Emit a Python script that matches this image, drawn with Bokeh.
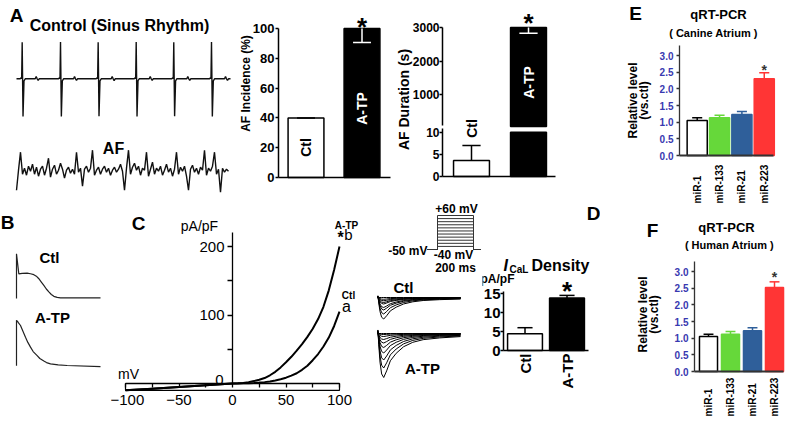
import numpy as np
from math import pi
from bokeh.plotting import figure
from bokeh.layouts import row, column
from bokeh.models import Range1d, LinearAxis, FixedTicker, Label, PrintfTickFormatter
from bokeh.core.properties import value
from bokeh.embed import file_html
from bokeh.resources import INLINE

FONT = "Liberation Sans"

# ---------------------------------------------------------------- data
# A - surface ECG (sinus rhythm), time in ms, amplitude in mV
sinus_ms = [0, 49, 62, 68, 75, 86, 99, 115, 247, 260, 273, 286, 299,
            555, 568, 574, 581, 592, 605, 621, 753, 766, 779, 792, 805,
            1052, 1065, 1071, 1078, 1089, 1102, 1118, 1250, 1263, 1276, 1289, 1302,
            1554, 1567, 1573, 1580, 1591, 1604, 1620, 1752, 1765, 1778, 1791, 1804,
            2050, 2063, 2069, 2076, 2087, 2100, 2116, 2248, 2261, 2274, 2287, 2300,
            2548, 2561, 2567, 2574, 2585, 2598, 2614, 2746, 2759, 2772, 2785, 2798, 2825]
sinus_mv = [0, 0, 0.06, 0, 1.83, -1.88, -0.10, 0, 0, 0.12, 0, -0.08, 0,
            0, 0.06, 0, 1.84, -1.88, -0.10, 0, 0, 0.11, 0, -0.08, 0,
            0, 0.05, 0, 1.83, -1.87, -0.10, 0, 0, 0.12, 0, -0.09, 0,
            0, 0.06, 0, 1.84, -1.88, -0.09, 0, 0, 0.12, 0, -0.08, 0,
            0, 0.06, 0, 1.83, -1.87, -0.10, 0, 0, 0.11, 0, -0.08, 0,
            0, 0.06, 0, 1.84, -1.88, -0.10, 0, 0, 0.12, 0, -0.08, 0, 0]
# A - AF electrogram, one sample every 26.4 ms, amplitude in units of 0.05 mV
af_sample_ms = 26.4
af_amp = [-18, 2, 20, -2, 4, -3, 6, 1, 8, -2,
          5, -4, 3, 6, -3, 4, 14, -5, 3, 7,
          -2, 2, 9, 3, -6, 2, 5, -1, 3, -2,
          20, 0, 4, -14, 3, 6, 0, 4, 22, -3,
          2, 5, -2, 3, 6, 0, 4, -3, 2, 5,
          0, 3, 8, 1, -18, 4, 22, -2, 5, 9,
          2, 6, -3, 4, 2, 20, -4, 3, 10, -2,
          4, 1, 6, -3, 2, 8, 0, 4, -4, 3,
          20, -2, 5, 1, 6, -4, -18, 3, 7, 0,
          4, -2, 5, 2, 22, -3, 4, 1, 6, 20,
          -2, 3, -20, 4, 0, 3, 1]

groups = ["Ctl", "A-TP"]
af_incidence = [40, 100]
af_incidence_sem = [0, 9.4]
af_duration = [3.6, 3000]
af_duration_sem = [3.4, 170]

# B - action potentials
ap_ctl_ms = [0, 0, 14, 34, 64, 84, 104, 119, 134, 149, 164, 179, 194, 209, 224, 244, 264, 504]
ap_ctl_mv = [-82, 40, -15, -13.5, -13, -14.5, -17, -21, -28, -37, -46, -56, -64, -71, -76, -79, -80, -80]
ap_atp_ms = [0, 0, 6, 12, 24, 38, 54, 68, 84, 100, 124, 140, 164, 180, 204, 250, 304, 504]
ap_atp_mv = [-81, 43, 40, 36, 29, 14, -3, -17, -30, -42, -53, -61, -68, -72, -75.5, -78.5, -80, -83]

# C - I-V relation (pA/pF vs mV)
iv_mv = [-100, -75, -50, -25, 0, 5, 10, 15, 20, 25, 30, 35, 40, 45, 50, 55, 60, 65, 70, 75, 80, 85, 90, 95, 100]
iv_ctl = [-10, -7.5, -5, -2.5, 0, 0.1, 0.3, 0.5, 0.8, 1.3, 2, 3, 4.5, 6.3, 8.5, 11.5, 15, 20, 26, 34, 43, 54, 67, 84, 105]
iv_atp = [-10, -7.5, -5, -2.5, 0, 0.2, 0.8, 2, 3.5, 5.5, 8, 12, 17, 23.5, 31, 39, 48, 57.5, 68, 80, 94, 112, 136, 166, 200]

# D - voltage protocol and ICaL recordings
protocol_hold_mv = -50
protocol_steps_mv = [-40, -30, -20, -10, 0, 10, 20, 30, 40, 50, 60]
protocol_ms = [-57, 0, 0, 200, 200, 239]
ica_ms = [0, 1, 3, 6, 10, 15, 22, 31, 45, 63, 85, 110, 150, 200]
ica_frac = [0, -0.08, 0.25, 0.65, 0.92, 1.0, 0.85, 0.62, 0.45, 0.30, 0.20, 0.14, 0.10, 0.07]
ica_ctl_peak_pa = [-430, -330, -250, -200, -130, -100, -65, -35, 0]
ica_atp_peak_pa = [-880, -690, -530, -390, -280, -190, -120, -60, -20, 0]
ical_density = [4.4, 13.8]
ical_sem = [1.6, 0.7]

# E, F - qRT-PCR
mirs = ["miR-1", "miR-133", "miR-21", "miR-223"]
canine_level = [1.05, 1.13, 1.23, 2.30]
canine_sem = [0.08, 0.08, 0.09, 0.18]
human_level = [1.05, 1.12, 1.22, 2.52]
human_sem = [0.07, 0.08, 0.09, 0.17]
mir_fill = ["white", "#66d83a", "#2f5f9a", "#ff3535"]
mir_line = ["black", "#66d83a", "#2f5f9a", "#ff3535"]


# ---------------------------------------------------------------- helpers
def lin(v1, p1, v2, p2):
    k = (v2 - v1) / (p2 - p1)
    return lambda px: v1 + (px - p1) * k


def panel(box, fx, fy):
    X0, X1, Y0, Y1 = box
    p = figure(width=X1 - X0, height=Y1 - Y0,
               x_range=Range1d(fx(X0), fx(X1)), y_range=Range1d(fy(Y1), fy(Y0)),
               x_axis_type=None, y_axis_type=None, toolbar_location=None,
               output_backend="svg", min_border=0, title=None)
    p.outline_line_color = None
    p.background_fill_color = "white"
    p.border_fill_color = "white"
    return p


def lab(p, x, y, text, size, style="bold", color="black", align="center",
        baseline="middle", angle=0, xr="default", yr="default"):
    p.add_layout(Label(x=x, y=y, text=text, text_font=FONT, text_font_size=f"{size}px",
                       text_font_style=style, text_color=color, text_align=align,
                       text_baseline=baseline, angle=angle,
                       x_range_name=xr, y_range_name=yr))


def add_axis(p, side, loc, bounds, ticks, size, style="bold", color="black", lw=1.5,
             tick_out=4, minor=None, xr="default", yr="default", fmt=None, standoff=3,
             line_color="black"):
    ax = LinearAxis(fixed_location=loc, bounds=bounds,
                    ticker=FixedTicker(ticks=ticks, minor_ticks=minor or []),
                    x_range_name=xr, y_range_name=yr)
    ax.axis_line_width = lw
    ax.axis_line_color = line_color
    ax.major_tick_line_width = lw
    ax.major_tick_line_color = line_color
    ax.major_tick_in = 0
    ax.major_tick_out = tick_out
    ax.minor_tick_in = 0
    ax.minor_tick_out = tick_out
    ax.minor_tick_line_width = lw
    if not minor:
        ax.minor_tick_line_color = None
    ax.major_label_text_font = FONT
    ax.major_label_text_font_size = f"{size}px"
    ax.major_label_text_font_style = style
    ax.major_label_text_color = color
    ax.major_label_standoff = standoff
    if fmt is not None:
        ax.formatter = fmt
    if not ticks:
        ax.major_tick_line_color = None
        ax.major_label_text_font_size = "0px"
    p.add_layout(ax, side)
    return ax


def errbars(p, xs, lo, hi, cap_w, colors, lw=1.5, yr="default"):
    p.segment(x0=xs, y0=lo, x1=xs, y1=hi, line_color=colors, line_width=lw, y_range_name=yr)
    p.segment(x0=[x - cap_w / 2 for x in xs], y0=hi, x1=[x + cap_w / 2 for x in xs], y1=hi,
              line_color=colors, line_width=lw, y_range_name=yr)


xg = list(range(1, len(groups) + 1))
grp_fill = ["white", "black"]
grp_err = ["black", "white"]
grp_dir = [1, -1]

# ---------------------------------------------------------------- A traces
fxA = lin(0, 16, 13.2, 17)
fyA = lin(0, 78.3, 1, 58.3)
fyAF = lin(0, 171.7, 1, 151.7)
pA = panel((0, 235, 0, 200), fxA, fyA)
pA.extra_y_ranges = {"af": Range1d(fyAF(200), fyAF(0))}
pA.line(sinus_ms, sinus_mv, line_color="#111111", line_width=1.4)
af_ms = np.arange(len(af_amp)) * af_sample_ms
af_mv = np.array(af_amp) * 0.05
pA.line(af_ms, af_mv, line_color="#111111", line_width=1.4, y_range_name="af")
lab(pA, fxA(16), fyA(15), "A", 19)
lab(pA, fxA(119), fyA(25), "Control (Sinus Rhythm)", 16)
lab(pA, fxA(113), fyAF(148), "AF", 16, yr="af")

# ---------------------------------------------------------------- A incidence
fx2 = lin(1, 305.5, 2, 361.5)
fy2 = lin(0, 177, 100, 28)
p2 = panel((235, 395, 0, 200), fx2, fy2)
p2.vbar(x=xg, top=af_incidence, bottom=0, width=0.64, fill_color=grp_fill,
        line_color="black", line_width=1.5)
errbars(p2, xg, af_incidence,
        [m + d * s for m, s, d in zip(af_incidence, af_incidence_sem, grp_dir)],
        0.32, grp_err)
add_axis(p2, "left", fx2(278), (0, 100), [0, 20, 40, 60, 80, 100], 13, tick_out=3, standoff=1)
add_axis(p2, "below", 0, (fx2(278), fx2(390)), [], 12)
lab(p2, fx2(245), fy2(83), "AF Incidence (%)", 12, angle=pi / 2)
lab(p2, xg[0], fy2(147), groups[0], 14, angle=pi / 2)
lab(p2, xg[1], fy2(108), groups[1], 14, color="white", angle=pi / 2)
lab(p2, xg[1], fy2(26), "*", 26)

# ---------------------------------------------------------------- A duration (broken axis)
fx3 = lin(1, 471, 2, 528)
fy3 = lin(3000, 27, 1000, 94)
fy3l = lin(0, 176, 10, 131.7)
p3 = panel((395, 600, 0, 200), fx3, fy3)
p3.extra_y_ranges = {"low": Range1d(fy3l(200), fy3l(0))}
dur_low_max = 10
dur_up_min = fy3(126)
p3.vbar(x=xg, top=[min(v, dur_low_max) for v in af_duration], bottom=0, width=0.63,
        fill_color=grp_fill, line_color="black", line_width=1.5, y_range_name="low")
big = [i for i, v in enumerate(af_duration) if v > dur_low_max]
small = [i for i, v in enumerate(af_duration) if v <= dur_low_max]
p3.vbar(x=[xg[i] for i in big], top=[af_duration[i] for i in big], bottom=dur_up_min, width=0.63,
        fill_color=[grp_fill[i] for i in big], line_color="black", line_width=1.5)
errbars(p3, [xg[i] for i in big], [af_duration[i] for i in big],
        [af_duration[i] + grp_dir[i] * af_duration_sem[i] for i in big], 0.32,
        [grp_err[i] for i in big])
errbars(p3, [xg[i] for i in small], [af_duration[i] for i in small],
        [af_duration[i] + grp_dir[i] * af_duration_sem[i] for i in small], 0.32,
        [grp_err[i] for i in small], yr="low")
add_axis(p3, "left", fx3(442), (fy3(125), 3000), [1000, 2000, 3000], 12, tick_out=3, standoff=0)
add_axis(p3, "left", fx3(442), (0, fy3l(128)), [0, 5, 10], 12, tick_out=3, standoff=0, yr="low")
add_axis(p3, "below", 0, (fx3(442), fx3(555)), [], 12, yr="low")
lab(p3, fx3(403), fy3(99), "AF Duration (s)", 14, angle=pi / 2)
lab(p3, xg[0], fy3l(128), groups[0], 14, angle=pi / 2, yr="low")
lab(p3, xg[1], fy3(82), groups[1], 14, color="white", angle=pi / 2)
lab(p3, xg[1], fy3(22), "*", 26)

# ---------------------------------------------------------------- B action potentials
fxB = lin(0, 16, 6, 17)
fyB = lin(-80, 297.3, 0, 267.94)
fyB2 = lin(-80, 365, 0, 335.64)
pB = panel((0, 110, 200, 422), fxB, fyB)
pB.extra_y_ranges = {"atp": Range1d(fyB2(422), fyB2(200))}
pB.line(ap_ctl_ms, ap_ctl_mv, line_color="#222222", line_width=1.2)
pB.line(ap_atp_ms, ap_atp_mv, line_color="#222222", line_width=1.2, y_range_name="atp")
lab(pB, fxB(7), fyB(222), "B", 19)
lab(pB, fxB(49), fyB(257), "Ctl", 15)
lab(pB, fxB(52), fyB(317), "A-TP", 15)

# ---------------------------------------------------------------- C I-V
fxC = lin(0, 232, 100, 339)
fyC = lin(0, 383, 200, 246)
pC = panel((110, 365, 200, 422), fxC, fyC)
pC.quad(left=min(iv_mv), right=max(iv_mv), bottom=min(min(iv_ctl), min(iv_atp)), top=0,
        fill_color=None, line_color="black", line_width=1.2)
pC.line(iv_mv, iv_ctl, line_color="black", line_width=2)
pC.line(iv_mv, iv_atp, line_color="black", line_width=2)
add_axis(pC, "left", 0, (0, fyC(232)), [100, 200], 15, style="normal", minor=[50, 150],
         tick_out=5, standoff=3, lw=1.3)
add_axis(pC, "below", 0, (min(iv_mv), max(iv_mv)), [-100, -50, 0, 50, 100], 15, style="normal",
         minor=[-75, -25, 25, 75], tick_out=4, standoff=7, lw=1.3)
lab(pC, fxC(219), fyC(379), "0", 15, style="normal")
lab(pC, fxC(138), fyC(223), "C", 19)
lab(pC, fxC(199), fyC(225), "pA/pF", 14, style="normal")
lab(pC, fxC(128), fyC(373), "mV", 14, style="normal")
lab(pC, fxC(346), fyC(225), "A-TP", 10)
lab(pC, fxC(340), fyC(237), "*", 16)
lab(pC, fxC(348), fyC(234), "b", 15, style="normal")
lab(pC, fxC(348), fyC(295), "Ctl", 10)
lab(pC, fxC(346), fyC(306), "a", 16, style="normal")

# ---------------------------------------------------------------- D traces + protocol
fxD = lin(0, 377, 100, 418.5)
fxP = lin(0, 437, 200, 473)
fyD = lin(0, 297, -1000, 347)
fyD2 = lin(0, 333, -1000, 383)
fyP = lin(-50, 249, 60, 215)
pD = panel((365, 482, 200, 422), fxD, fyD)
pD.extra_x_ranges = {"proto": Range1d(fxP(365), fxP(482))}
pD.extra_y_ranges = {"atp": Range1d(fyD2(422), fyD2(200)),
                     "proto": Range1d(fyP(422), fyP(200))}
h = protocol_hold_mv
pD.multi_line(xs=[protocol_ms] * len(protocol_steps_mv),
              ys=[[h, h, v, v, h, h] for v in protocol_steps_mv],
              line_color="#333333", line_width=1, x_range_name="proto", y_range_name="proto")
pD.multi_line(xs=[ica_ms] * len(ica_ctl_peak_pa),
              ys=[list(np.array(ica_frac) * pk) for pk in ica_ctl_peak_pa],
              line_color="black", line_width=1)
pD.multi_line(xs=[ica_ms] * len(ica_atp_peak_pa),
              ys=[list(np.array(ica_frac) * pk) for pk in ica_atp_peak_pa],
              line_color="black", line_width=1, y_range_name="atp")
lab(pD, fxD(456), fyD(208), "+60 mV", 12)
lab(pD, fxD(427), fyD(250), "-50 mV", 12, align="right")
lab(pD, fxD(453), fyD(254), "-40 mV", 12)
lab(pD, fxD(455), fyD(267), "200 ms", 12)
lab(pD, fxD(403), fyD(287), "Ctl", 15)
lab(pD, fxD(422), fyD(368), "A-TP", 15)

# ---------------------------------------------------------------- D density bars
fx5 = lin(1, 524.5, 2, 566.5)
fy5 = lin(0, 350, 15, 293)
p5 = panel((482, 600, 200, 422), fx5, fy5)
p5.vbar(x=xg, top=ical_density, bottom=0, width=0.83, fill_color=grp_fill,
        line_color="black", line_width=1.5)
errbars(p5, xg, ical_density, [m + s for m, s in zip(ical_density, ical_sem)], 0.36,
        ["black", "black"])
add_axis(p5, "left", fx5(503), (0, fy5(291)), [0, 5, 10, 15], 15, tick_out=3, standoff=0)
add_axis(p5, "below", 0, (fx5(503), fx5(588)), [], 12)
p5.text(x=xg, y=fy5(353), text=groups, angle=pi / 2, text_align="right", text_baseline="middle",
        text_font=value(FONT), text_font_size="15px", text_font_style="bold", text_color="black")
lab(p5, xg[1], fy5(290), "*", 26)
lab(p5, fx5(497), fy5(278), "pA/pF", 12)
lab(p5, fx5(503), fy5(265), "I", 16, style="bold italic", align="left", baseline="alphabetic")
lab(p5, fx5(509), fy5(269), "CaL", 10, align="left", baseline="alphabetic")
lab(p5, fx5(531), fy5(265), "Density", 16, align="left", baseline="alphabetic")
lab(p5, fx5(593), fy5(213), "D", 19)

# ---------------------------------------------------------------- E / F qRT-PCR
xm = list(range(1, len(mirs) + 1))


def qpcr(box, fx, fy, levels, sems, ax_px, xend_px, bar_w, letter, letter_xy, sub, sub_xy,
         title_xy, ylab_x, ylab_y, xl_px, star_px):
    p = panel(box, fx, fy)
    p.vbar(x=xm, top=levels, bottom=0, width=bar_w, fill_color=mir_fill, line_color=mir_line,
           line_width=1.5)
    errbars(p, xm, levels, [m + s for m, s in zip(levels, sems)], 0.45, mir_line, lw=1.5)
    add_axis(p, "left", fx(ax_px), (0, 3.3), [0, 0.5, 1.0, 1.5, 2.0, 2.5, 3.0], 10,
             color="#3838b0", tick_out=3, standoff=3, lw=1.3, line_color="#333333",
             fmt=PrintfTickFormatter(format="%.1f"))
    add_axis(p, "below", 0, (fx(ax_px), fx(xend_px)), [], 10, lw=2, line_color="#333333")
    p.text(x=xm, y=fy(xl_px), text=mirs, angle=pi / 2, text_align="left", text_baseline="middle",
           text_font=value(FONT), text_font_size="10px", text_font_style="bold", text_color="black")
    lab(p, xm[-1], fy(star_px), "*", 14, color="#333333")
    lab(p, fx(letter_xy[0]), fy(letter_xy[1]), letter, 19)
    lab(p, fx(title_xy[0]), fy(title_xy[1]), "qRT-PCR", 13)
    lab(p, fx(sub_xy[0]), fy(sub_xy[1]), sub, 11)
    lab(p, fx(ylab_x[0]), fy(ylab_y), "Relative level", 12, angle=pi / 2)
    lab(p, fx(ylab_x[1]), fy(ylab_y), "(vs.ctl)", 12, angle=pi / 2)
    return p


fxE = lin(1, 696.7, 2, 719.05)
fyE = lin(0, 155, 3, 55)
pE = qpcr((600, 787, 0, 207), fxE, fyE, canine_level, canine_sem, 679, 773, 0.9,
          "E", (635, 13), "( Canine Atrium )", (713, 32), (718, 14), (632, 643), 100, 203, 69)

fxF = lin(1, 708, 2, 730)
fyF = lin(0, 371, 3, 271)
pF = qpcr((600, 787, 207, 422), fxF, fyF, human_level, human_sem, 694, 783, 0.82,
          "F", (652, 230), "( Human Atrium )", (729, 244), (726, 227), (642, 653), 314, 416, 276)

layout = row(column(row(pA, p2, p3), row(pB, pC, pD, p5)), column(pE, pF))
open("out.html", "w").write(file_html(layout, INLINE, "figure"))
